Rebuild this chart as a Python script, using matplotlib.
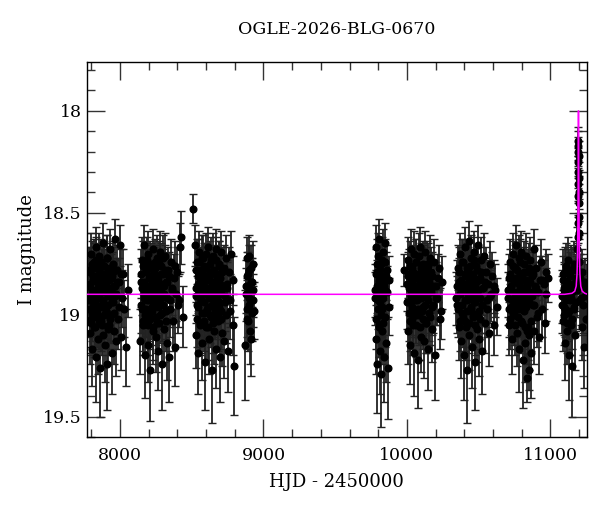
import numpy as np
import matplotlib
matplotlib.use('Agg')
import matplotlib.pyplot as plt
from matplotlib.ticker import MultipleLocator

# OGLE photometry
hjd = [
    # season 1
    7782, 7786, 7789, 7793, 7797, 7800, 7804, 7808, 7812, 7815,
    7819, 7823, 7827, 7831, 7834, 7838, 7842, 7846, 7850, 7853,
    7857, 7861, 7865, 7869, 7872, 7876, 7880, 7884, 7888, 7891,
    7895, 7899, 7903, 7907, 7911, 7914, 7918, 7922, 7926, 7930,
    7934, 7938, 7942, 7946, 7950, 7955, 7960, 7965, 7970, 7975,
    7980, 7986, 7992, 7998, 8005, 8012, 8020, 8030, 8042, 8056,
    # season 2
    8142, 8147, 8151, 8156, 8160, 8164, 8168, 8172, 8176, 8180,
    8184, 8188, 8192, 8196, 8200, 8204, 8208, 8212, 8216, 8220,
    8224, 8228, 8232, 8236, 8240, 8244, 8248, 8252, 8256, 8260,
    8264, 8268, 8272, 8276, 8280, 8284, 8288, 8292, 8296, 8300,
    8305, 8310, 8315, 8320, 8325, 8330, 8336, 8342, 8348, 8354,
    8360, 8367, 8374, 8381, 8389, 8397, 8406, 8415, 8425, 8436,
    # season 3
    8508, 8523,
    8527, 8531, 8535, 8539, 8543, 8547, 8551, 8555, 8559, 8563,
    8567, 8571, 8575, 8579, 8583, 8587, 8591, 8595, 8599, 8603,
    8607, 8611, 8615, 8619, 8623, 8627, 8631, 8635, 8639, 8643,
    8647, 8651, 8655, 8659, 8663, 8667, 8671, 8675, 8679, 8683,
    8687, 8691, 8695, 8699, 8703, 8707, 8712, 8717, 8722, 8727,
    8732, 8737, 8742, 8748, 8754, 8760, 8767, 8775, 8785, 8797,
    # season 4
    8872, 8880, 8884, 8888, 8892, 8896, 8900, 8904, 8908, 8912,
    8916, 8920, 8925, 8930, 8936,
    # season 5
    9778, 9782, 9786, 9790, 9793, 9796, 9799, 9802, 9805, 9808,
    9811, 9814, 9817, 9820, 9823, 9826, 9829, 9832, 9835, 9838,
    9841, 9844, 9847, 9850, 9854, 9858, 9862, 9867, 9872, 9878,
    # season 6
    9980,
    10002, 10006, 10010, 10014, 10018, 10022, 10026, 10030, 10034, 10038,
    10042, 10046, 10050, 10054, 10058, 10062, 10066, 10070, 10074, 10078,
    10082, 10086, 10090, 10094, 10098, 10102, 10106, 10110, 10114, 10118,
    10122, 10126, 10130, 10135, 10140, 10145, 10150, 10155, 10160, 10166,
    10172, 10178, 10184, 10190, 10197, 10204, 10212, 10221, 10231, 10242,
    # season 7
    10345, 10350, 10355, 10360, 10365, 10370, 10375, 10380, 10385, 10390,
    10395, 10400, 10404, 10408, 10412, 10416, 10420, 10424, 10428, 10432,
    10436, 10440, 10444, 10448, 10452, 10456, 10460, 10464, 10468, 10472,
    10476, 10480, 10484, 10488, 10492, 10496, 10500, 10505, 10510, 10515,
    10520, 10525, 10530, 10536, 10542, 10548, 10555, 10562, 10570, 10578,
    10586, 10595, 10604, 10614, 10625,
    # season 8
    10704, 10709, 10714, 10719, 10724, 10729, 10734, 10739, 10744, 10749,
    10754, 10758, 10762, 10766, 10770, 10774, 10778, 10782, 10786, 10790,
    10794, 10798, 10802, 10806, 10810, 10814, 10818, 10822, 10826, 10830,
    10834, 10838, 10842, 10846, 10850, 10854, 10858, 10863, 10868, 10873,
    10878, 10883, 10888, 10894, 10900, 10906, 10913, 10920, 10928, 10936,
    10944, 10953, 10962, 10972, 10982,
    # season 9 (event)
    11082, 11086, 11090, 11094, 11098, 11102, 11106, 11110, 11114, 11118,
    11122, 11126, 11130, 11134, 11138, 11142, 11146, 11150, 11154, 11158,
    11162, 11166, 11170, 11174, 11178, 11182, 11186, 11189, 11191, 11192.5,
    11193.5, 11194.5, 11195.5, 11196.5, 11197.5, 11198.5, 11200, 11202, 11205, 11209,
    11214, 11219, 11224, 11229, 11234, 11239, 11244, 11249, 11254,
]

mag = [
    18.93, 18.78, 19.09, 18.85, 18.70, 19.02, 18.88, 19.17, 18.81, 18.96,
    18.74, 19.06, 18.90, 18.67, 19.21, 18.84, 18.99, 18.77, 19.12, 18.92,
    18.71, 19.26, 18.86, 19.03, 18.80, 18.95, 18.65, 19.10, 18.89, 18.76,
    19.15, 18.83, 18.98, 18.72, 19.24, 18.91, 18.79, 19.05, 18.87, 18.68,
    19.00, 18.82, 19.19, 18.94, 18.75, 19.08, 18.86, 18.63, 19.13, 18.90,
    18.78, 19.02, 18.84, 18.66, 19.11, 18.92, 18.80, 18.97, 19.16, 18.88,
    19.13, 18.84, 18.97, 18.73, 19.05, 18.90, 18.66, 19.20, 18.86, 18.79,
    19.02, 18.93, 18.70, 19.15, 18.82, 18.99, 18.75, 19.27, 18.88, 18.81,
    18.96, 18.68, 19.08, 18.85, 18.92, 18.77, 19.11, 18.89, 18.72, 19.04,
    18.83, 19.18, 18.94, 18.69, 19.00, 18.87, 18.76, 19.24, 18.91, 18.80,
    19.07, 18.86, 18.71, 18.98, 19.14, 18.84, 18.78, 19.21, 18.93, 18.74,
    18.88, 19.03, 18.82, 19.16, 18.90, 18.79, 18.95, 18.67, 18.62, 19.01,
    18.48, 18.66,
    18.87, 19.10, 18.74, 18.95, 18.81, 19.19, 18.69, 18.90, 19.04, 18.78,
    18.93, 18.72, 19.14, 18.85, 18.99, 18.76, 19.23, 18.88, 18.70, 19.06,
    18.83, 18.96, 18.67, 19.12, 18.89, 18.79, 19.01, 18.73, 19.27, 18.86,
    18.92, 18.71, 19.08, 18.84, 18.97, 18.68, 19.17, 18.90, 18.80, 19.03,
    18.75, 18.94, 19.21, 18.82, 18.98, 18.69, 19.09, 18.87, 18.77, 19.13,
    18.91, 18.72, 19.00, 18.85, 19.18, 18.79, 18.93, 18.70, 19.05, 19.25,
    19.15, 18.86, 18.72, 19.02, 18.80, 18.95, 18.71, 19.08, 18.88, 18.77,
    19.12, 18.84, 18.93, 18.75, 18.98,
    18.88, 18.67, 19.12, 18.79, 19.24, 18.93, 18.71, 19.05, 18.84, 18.63,
    19.18, 18.90, 18.75, 19.29, 18.97, 18.81, 19.08, 18.69, 18.92, 19.21,
    18.86, 18.74, 19.01, 18.65, 19.14, 18.89, 18.78, 19.26, 18.83, 18.96,
    18.78,
    18.85, 19.08, 18.73, 18.94, 18.80, 19.15, 18.68, 18.91, 19.02, 18.77,
    18.97, 18.70, 19.19, 18.86, 18.82, 19.05, 18.74, 18.93, 19.22, 18.88,
    18.71, 19.00, 18.84, 18.67, 19.11, 18.90, 18.79, 18.96, 18.75, 19.13,
    18.87, 18.69, 19.04, 18.83, 18.92, 19.17, 18.76, 18.99, 18.72, 18.89,
    19.07, 18.81, 18.95, 18.74, 19.20, 18.86, 18.92, 18.77, 19.02, 18.84,
    18.92, 18.95, 18.77, 19.06, 18.84, 18.70, 19.13, 18.88, 18.99, 18.74,
    19.20, 18.86, 18.67, 19.03, 18.81, 18.93, 19.27, 18.78, 18.90, 18.64,
    19.10, 18.85, 18.97, 18.72, 19.16, 18.89, 18.80, 19.01, 18.69, 18.94,
    19.23, 18.83, 18.76, 19.07, 18.91, 18.66, 18.98, 19.12, 18.82, 18.73,
    18.95, 19.18, 18.87, 18.71, 19.04, 18.79, 18.93, 18.85, 19.09, 18.75,
    18.90, 18.81, 19.05, 18.88, 18.96,
    18.92, 18.82, 19.05, 18.74, 18.96, 18.86, 19.12, 18.70, 18.89, 19.00,
    18.77, 18.93, 18.66, 19.09, 18.84, 18.97, 18.72, 19.17, 18.87, 18.80,
    19.03, 18.69, 18.91, 19.22, 18.83, 18.75, 18.98, 19.14, 18.88, 18.71,
    19.31, 18.85, 18.79, 19.06, 18.94, 19.27, 18.73, 18.90, 19.19, 18.81,
    18.95, 18.68, 19.08, 18.86, 18.77, 19.01, 18.89, 19.11, 18.83, 18.74,
    18.97, 18.85, 19.04, 18.79, 18.82,
    18.91, 19.03, 18.80, 18.96, 18.87, 19.14, 18.76, 18.93, 19.08, 18.84,
    18.99, 18.73, 19.20, 18.89, 18.81, 19.05, 18.92, 18.78, 19.25, 18.86,
    18.97, 18.75, 19.10, 18.88, 18.83, 18.94, 18.78, 18.68, 18.55, 18.42,
    18.30, 18.20, 18.15, 18.22, 18.33, 18.45, 18.60, 18.74, 18.82, 18.93,
    18.86, 19.06, 18.79, 18.95, 19.16, 18.84, 18.91, 19.02, 18.88,
]

err = [
    0.12, 0.11, 0.15, 0.13, 0.10, 0.14, 0.12, 0.18, 0.12, 0.14,
    0.11, 0.15, 0.13, 0.10, 0.22, 0.12, 0.14, 0.11, 0.17, 0.13,
    0.11, 0.24, 0.12, 0.15, 0.12, 0.14, 0.10, 0.16, 0.13, 0.11,
    0.18, 0.12, 0.14, 0.11, 0.23, 0.13, 0.12, 0.15, 0.13, 0.10,
    0.14, 0.12, 0.20, 0.13, 0.11, 0.16, 0.13, 0.10, 0.17, 0.13,
    0.12, 0.15, 0.12, 0.10, 0.16, 0.14, 0.12, 0.14, 0.19, 0.13,
    0.16, 0.12, 0.14, 0.11, 0.15, 0.13, 0.10, 0.21, 0.12, 0.11,
    0.14, 0.13, 0.11, 0.18, 0.12, 0.14, 0.11, 0.25, 0.13, 0.12,
    0.14, 0.10, 0.16, 0.12, 0.13, 0.11, 0.17, 0.13, 0.11, 0.15,
    0.12, 0.19, 0.13, 0.10, 0.14, 0.13, 0.11, 0.23, 0.13, 0.12,
    0.16, 0.12, 0.11, 0.14, 0.18, 0.12, 0.11, 0.22, 0.13, 0.11,
    0.13, 0.15, 0.12, 0.19, 0.13, 0.12, 0.14, 0.12, 0.13, 0.15,
    0.07, 0.10,
    0.13, 0.16, 0.11, 0.14, 0.12, 0.20, 0.10, 0.13, 0.15, 0.11,
    0.13, 0.11, 0.18, 0.12, 0.14, 0.11, 0.24, 0.13, 0.10, 0.16,
    0.12, 0.14, 0.10, 0.17, 0.13, 0.12, 0.15, 0.11, 0.26, 0.12,
    0.13, 0.11, 0.16, 0.12, 0.14, 0.10, 0.19, 0.13, 0.12, 0.15,
    0.11, 0.13, 0.22, 0.12, 0.14, 0.10, 0.16, 0.13, 0.11, 0.18,
    0.13, 0.11, 0.14, 0.12, 0.20, 0.12, 0.13, 0.11, 0.15, 0.24,
    0.27, 0.13, 0.10, 0.15, 0.11, 0.14, 0.10, 0.16, 0.12, 0.11,
    0.18, 0.12, 0.13, 0.11, 0.14,
    0.13, 0.11, 0.17, 0.12, 0.24, 0.14, 0.11, 0.16, 0.13, 0.10,
    0.21, 0.13, 0.12, 0.26, 0.14, 0.12, 0.16, 0.11, 0.13, 0.22,
    0.13, 0.11, 0.15, 0.10, 0.19, 0.13, 0.12, 0.25, 0.12, 0.14,
    0.08,
    0.13, 0.16, 0.11, 0.14, 0.12, 0.19, 0.10, 0.13, 0.15, 0.11,
    0.14, 0.11, 0.21, 0.13, 0.12, 0.16, 0.11, 0.13, 0.24, 0.13,
    0.11, 0.15, 0.12, 0.10, 0.17, 0.13, 0.12, 0.14, 0.11, 0.18,
    0.13, 0.10, 0.15, 0.12, 0.13, 0.20, 0.11, 0.14, 0.11, 0.13,
    0.16, 0.12, 0.14, 0.11, 0.22, 0.12, 0.13, 0.11, 0.15, 0.13,
    0.13, 0.14, 0.11, 0.16, 0.12, 0.10, 0.18, 0.13, 0.14, 0.11,
    0.22, 0.12, 0.10, 0.15, 0.12, 0.13, 0.26, 0.11, 0.13, 0.10,
    0.17, 0.12, 0.14, 0.11, 0.20, 0.13, 0.12, 0.15, 0.10, 0.13,
    0.24, 0.12, 0.11, 0.16, 0.13, 0.10, 0.14, 0.18, 0.12, 0.11,
    0.14, 0.21, 0.13, 0.11, 0.15, 0.12, 0.13, 0.12, 0.16, 0.11,
    0.13, 0.12, 0.15, 0.13, 0.14,
    0.13, 0.12, 0.15, 0.11, 0.14, 0.12, 0.17, 0.10, 0.13, 0.15,
    0.11, 0.13, 0.10, 0.16, 0.12, 0.14, 0.11, 0.21, 0.13, 0.12,
    0.15, 0.10, 0.13, 0.24, 0.12, 0.11, 0.14, 0.19, 0.13, 0.11,
    0.12, 0.12, 0.11, 0.16, 0.13, 0.10, 0.11, 0.13, 0.22, 0.12,
    0.14, 0.10, 0.16, 0.12, 0.11, 0.15, 0.13, 0.18, 0.12, 0.11,
    0.14, 0.12, 0.15, 0.11, 0.12,
    0.13, 0.15, 0.12, 0.14, 0.13, 0.18, 0.11, 0.13, 0.16, 0.12,
    0.14, 0.11, 0.22, 0.13, 0.12, 0.15, 0.13, 0.11, 0.25, 0.12,
    0.14, 0.11, 0.17, 0.13, 0.12, 0.14, 0.12, 0.11, 0.10, 0.09,
    0.08, 0.07, 0.07, 0.07, 0.08, 0.09, 0.10, 0.11, 0.12, 0.14,
    0.12, 0.16, 0.11, 0.14, 0.20, 0.12, 0.13, 0.15, 0.13,
]

# denser measurements filling the dark core of each season
hjd_core = [
    7784, 7788, 7791, 7795, 7799, 7802, 7806, 7810, 7814, 7817,
    7821, 7825, 7829, 7833, 7836, 7840, 7844, 7848, 7852, 7855,
    7859, 7863, 7867, 7871, 7874, 7878, 7882, 7886, 7890, 7893,
    7897, 7901, 7905, 7909, 7913, 7916, 7920, 7924, 7928, 7932,
    7937, 7941, 7948, 7953, 7958, 7963, 7968, 7978, 7990, 8008,
    8145, 8149, 8153, 8158, 8162, 8166, 8170, 8174, 8178, 8182,
    8186, 8190, 8194, 8198, 8202, 8206, 8210, 8214, 8218, 8222,
    8226, 8230, 8234, 8238, 8242, 8246, 8250, 8254, 8258, 8262,
    8266, 8270, 8274, 8278, 8282, 8286, 8290, 8294, 8298, 8303,
    8308, 8313, 8318, 8323, 8328, 8339, 8351, 8364, 8385, 8410,
    8529, 8533, 8537, 8541, 8545, 8549, 8553, 8557, 8561, 8565,
    8569, 8573, 8577, 8581, 8585, 8589, 8593, 8597, 8601, 8605,
    8609, 8613, 8617, 8621, 8625, 8629, 8633, 8637, 8641, 8645,
    8649, 8653, 8657, 8661, 8665, 8669, 8673, 8677, 8681, 8685,
    8689, 8693, 8697, 8701, 8705, 8714, 8729, 8745, 8764, 8790,
    8878, 8882, 8886, 8890, 8894, 8898, 8902, 8910, 8918, 8928,
    9780, 9784, 9788, 9791, 9795, 9798, 9801, 9804, 9807, 9810,
    9813, 9816, 9819, 9822, 9825, 9828, 9831, 9836, 9845, 9856,
    10004, 10008, 10012, 10016, 10020, 10024, 10028, 10032, 10036, 10040,
    10044, 10048, 10052, 10056, 10060, 10064, 10068, 10072, 10076, 10080,
    10084, 10088, 10092, 10096, 10100, 10104, 10108, 10112, 10116, 10120,
    10124, 10128, 10133, 10138, 10143, 10148, 10153, 10158, 10163, 10169,
    10175, 10187, 10200, 10216, 10236,
    10352, 10357, 10362, 10367, 10372, 10377, 10382, 10387, 10392, 10397,
    10402, 10406, 10410, 10414, 10418, 10422, 10426, 10430, 10434, 10438,
    10442, 10446, 10450, 10454, 10458, 10462, 10466, 10470, 10474, 10478,
    10482, 10486, 10490, 10494, 10498, 10503, 10508, 10513, 10518, 10523,
    10533, 10545, 10559, 10582, 10609,
    10707, 10712, 10717, 10722, 10727, 10732, 10737, 10742, 10747, 10752,
    10756, 10760, 10764, 10768, 10772, 10776, 10780, 10784, 10788, 10792,
    10796, 10800, 10804, 10808, 10812, 10816, 10820, 10824, 10828, 10832,
    10836, 10840, 10844, 10848, 10852, 10856, 10861, 10866, 10871, 10876,
    10886, 10897, 10917, 10940, 10967,
    11084, 11088, 11092, 11096, 11100, 11104, 11108, 11112, 11116, 11120,
    11124, 11128, 11132, 11136, 11140, 11144, 11148, 11152, 11160, 11168,
    11176, 11184, 11190, 11193, 11195, 11196, 11199, 11201, 11217, 11237,
]

mag_core = [
    18.86, 18.97, 18.79, 19.04, 18.91, 18.75, 18.99, 18.83, 18.94, 18.77,
    19.06, 18.88, 18.81, 18.95, 18.73, 19.01, 18.87, 18.92, 18.78, 19.03,
    18.84, 18.96, 18.74, 18.89, 19.05, 18.82, 18.93, 18.76, 19.00, 18.87,
    18.80, 18.98, 18.85, 18.72, 18.95, 19.07, 18.83, 18.90, 18.77, 19.02,
    18.88, 18.81, 18.94, 18.79, 18.99, 18.86, 18.91, 18.84, 18.96, 18.80,
    18.80, 18.95, 18.87, 19.03, 18.76, 18.92, 18.84, 19.00, 18.78, 18.97,
    18.89, 18.73, 19.05, 18.86, 18.93, 18.81, 19.02, 18.77, 18.90, 18.98,
    18.83, 19.06, 18.79, 18.94, 18.87, 18.74, 19.01, 18.91, 18.82, 18.96,
    18.88, 18.75, 19.04, 18.85, 18.93, 18.80, 18.99, 18.86, 18.72, 18.95,
    18.90, 18.78, 19.03, 18.84, 18.92, 18.81, 18.97, 18.87, 18.76, 18.93,
    18.91, 18.78, 19.02, 18.85, 18.96, 18.74, 18.88, 19.05, 18.82, 18.93,
    18.79, 18.99, 18.86, 18.72, 18.94, 19.03, 18.81, 18.90, 18.77, 18.97,
    18.87, 19.06, 18.83, 18.92, 18.75, 19.00, 18.89, 18.80, 18.95, 18.84,
    19.04, 18.78, 18.91, 18.86, 18.98, 18.73, 18.93, 18.82, 19.01, 18.88,
    18.76, 18.96, 18.85, 19.02, 18.90, 18.79, 18.94, 18.87, 18.98, 18.83,
    18.90, 18.81, 18.97, 18.86, 19.03, 18.78, 18.92, 18.84, 18.99, 18.88,
    18.92, 18.80, 19.02, 18.86, 18.75, 18.97, 18.89, 19.06, 18.83, 18.94,
    18.78, 19.00, 18.87, 18.91, 18.73, 18.96, 18.84, 19.04, 18.88, 18.81,
    18.94, 18.81, 18.99, 18.87, 18.76, 19.03, 18.90, 18.84, 18.96, 18.79,
    19.05, 18.88, 18.82, 18.93, 18.74, 19.00, 18.86, 18.91, 18.80, 18.97,
    18.89, 19.06, 18.83, 18.92, 18.77, 18.98, 18.85, 19.02, 18.78, 18.90,
    18.95, 18.81, 19.04, 18.87, 18.75, 18.93, 18.84, 19.01, 18.89, 18.79,
    18.96, 18.86, 18.92, 18.82, 18.98,
    18.86, 18.97, 18.79, 19.03, 18.90, 18.83, 18.95, 18.74, 19.01, 18.88,
    18.80, 18.93, 19.06, 18.85, 18.77, 18.98, 18.89, 18.82, 19.04, 18.91,
    18.76, 18.96, 18.87, 18.81, 19.00, 18.92, 18.73, 18.94, 18.86, 19.05,
    18.84, 18.90, 18.78, 18.99, 18.88, 18.83, 19.02, 18.92, 18.79, 18.95,
    18.87, 18.84, 18.97, 18.91, 18.86,
    18.88, 18.97, 18.80, 19.02, 18.86, 18.93, 18.76, 18.99, 18.84, 18.91,
    19.05, 18.82, 18.95, 18.78, 18.89, 19.01, 18.85, 18.92, 18.74, 18.97,
    18.87, 19.04, 18.81, 18.94, 18.88, 18.79, 19.06, 18.90, 18.83, 18.96,
    19.08, 18.86, 18.93, 18.77, 19.10, 18.89, 18.84, 19.03, 18.91, 18.80,
    18.95, 18.87, 18.99, 18.83, 18.90,
    18.95, 18.83, 19.00, 18.88, 18.79, 18.97, 18.90, 18.84, 19.04, 18.86,
    18.92, 18.80, 18.98, 18.87, 18.93, 18.78, 19.02, 18.89, 18.85, 18.96,
    18.82, 18.88, 18.62, 18.36, 18.25, 18.17, 18.40, 18.52, 18.92, 18.86,
]

err_core = [
    0.13, 0.14, 0.12, 0.15, 0.13, 0.11, 0.14, 0.12, 0.13, 0.12,
    0.15, 0.13, 0.12, 0.14, 0.11, 0.15, 0.13, 0.13, 0.12, 0.14,
    0.12, 0.14, 0.11, 0.13, 0.15, 0.12, 0.13, 0.12, 0.14, 0.13,
    0.12, 0.14, 0.13, 0.11, 0.14, 0.16, 0.12, 0.13, 0.12, 0.15,
    0.13, 0.12, 0.14, 0.12, 0.14, 0.13, 0.13, 0.12, 0.14, 0.12,
    0.12, 0.14, 0.13, 0.15, 0.12, 0.13, 0.13, 0.14, 0.12, 0.14,
    0.13, 0.11, 0.15, 0.13, 0.13, 0.12, 0.15, 0.12, 0.13, 0.14,
    0.12, 0.16, 0.12, 0.14, 0.13, 0.11, 0.14, 0.13, 0.12, 0.14,
    0.13, 0.11, 0.15, 0.13, 0.13, 0.12, 0.14, 0.13, 0.11, 0.14,
    0.13, 0.12, 0.15, 0.12, 0.13, 0.12, 0.14, 0.13, 0.12, 0.13,
    0.13, 0.12, 0.14, 0.13, 0.14, 0.11, 0.13, 0.15, 0.12, 0.13,
    0.12, 0.14, 0.13, 0.11, 0.14, 0.15, 0.12, 0.13, 0.12, 0.14,
    0.13, 0.16, 0.12, 0.13, 0.11, 0.14, 0.13, 0.12, 0.14, 0.12,
    0.15, 0.12, 0.13, 0.13, 0.14, 0.11, 0.13, 0.12, 0.15, 0.13,
    0.12, 0.14, 0.13, 0.15, 0.13, 0.12, 0.14, 0.13, 0.14, 0.12,
    0.13, 0.12, 0.14, 0.13, 0.15, 0.12, 0.13, 0.12, 0.14, 0.13,
    0.13, 0.12, 0.15, 0.13, 0.12, 0.14, 0.13, 0.15, 0.12, 0.14,
    0.12, 0.14, 0.13, 0.13, 0.11, 0.14, 0.12, 0.15, 0.13, 0.12,
    0.13, 0.12, 0.14, 0.13, 0.12, 0.15, 0.13, 0.12, 0.14, 0.12,
    0.15, 0.13, 0.12, 0.13, 0.11, 0.14, 0.13, 0.13, 0.12, 0.14,
    0.13, 0.16, 0.12, 0.13, 0.12, 0.14, 0.13, 0.15, 0.12, 0.13,
    0.14, 0.12, 0.15, 0.13, 0.11, 0.13, 0.12, 0.14, 0.13, 0.12,
    0.14, 0.13, 0.13, 0.12, 0.14,
    0.13, 0.14, 0.12, 0.15, 0.13, 0.12, 0.14, 0.11, 0.15, 0.13,
    0.12, 0.13, 0.16, 0.13, 0.12, 0.14, 0.13, 0.12, 0.15, 0.13,
    0.12, 0.14, 0.13, 0.12, 0.14, 0.13, 0.11, 0.14, 0.13, 0.15,
    0.12, 0.13, 0.12, 0.14, 0.13, 0.12, 0.15, 0.13, 0.12, 0.14,
    0.13, 0.12, 0.14, 0.13, 0.13,
    0.13, 0.14, 0.12, 0.15, 0.13, 0.13, 0.12, 0.14, 0.12, 0.13,
    0.15, 0.12, 0.14, 0.12, 0.13, 0.14, 0.13, 0.13, 0.11, 0.14,
    0.13, 0.15, 0.12, 0.14, 0.13, 0.12, 0.16, 0.13, 0.12, 0.14,
    0.16, 0.13, 0.13, 0.12, 0.17, 0.13, 0.12, 0.15, 0.13, 0.12,
    0.14, 0.13, 0.14, 0.12, 0.13,
    0.14, 0.12, 0.15, 0.13, 0.12, 0.14, 0.13, 0.12, 0.15, 0.13,
    0.13, 0.12, 0.14, 0.13, 0.13, 0.12, 0.15, 0.13, 0.12, 0.14,
    0.12, 0.13, 0.10, 0.08, 0.07, 0.07, 0.08, 0.09, 0.13, 0.13,
]

# model light curve (magenta)
model_t = [7770, 11100, 11150, 11170, 11180, 11186, 11189, 11192, 11194, 11196,
           11198, 11200, 11203, 11206, 11212, 11222, 11240, 11260]
model_m = [18.90, 18.90, 18.895, 18.885, 18.86, 18.80, 18.72, 18.55, 18.30, 18.00,
           18.30, 18.55, 18.72, 18.80, 18.86, 18.885, 18.895, 18.90]

plt.rcParams['font.family'] = ['DejaVu Serif']

fig = plt.figure(figsize=(6, 5.12), dpi=100)
ax = fig.add_axes([0.145, 0.1465, 0.833, 0.7325])

for t, m, e in [(hjd, mag, err), (hjd_core, mag_core, err_core)]:
    ax.errorbar(t, m, yerr=e, fmt='o', color='black', ms=4.8,
                ecolor='#222222', elinewidth=1.3, capsize=2.6, capthick=1.0, zorder=2)
ax.plot(model_t, model_m, color='#ff00ff', lw=1.1, zorder=3)

ax.set_xlim(7770, 11254)
ax.set_ylim(19.6, 17.76)

ax.xaxis.set_major_locator(MultipleLocator(1000))
ax.xaxis.set_minor_locator(MultipleLocator(200))
ax.yaxis.set_major_locator(MultipleLocator(0.5))
ax.yaxis.set_minor_locator(MultipleLocator(0.1))
ax.yaxis.set_major_formatter(plt.FuncFormatter(lambda v, p: ('%g' % v)))
ax.tick_params(which='both', direction='in', top=True, right=True, labelsize=12.5, color='#333333')
ax.tick_params(which='major', length=13, width=1.0)
ax.tick_params(axis='x', which='major', pad=7)
ax.tick_params(axis='y', which='major', pad=4)
ax.tick_params(which='minor', length=6, width=1.0)
for s in ax.spines.values():
    s.set_linewidth(1.0)

ax.set_title('OGLE-2026-BLG-0670', fontsize=12.5, pad=20)
ax.set_xlabel('HJD - 2450000', fontsize=13, labelpad=7)
ax.set_ylabel('I magnitude', fontsize=13, labelpad=5)

fig.savefig('out.png', dpi=100)
